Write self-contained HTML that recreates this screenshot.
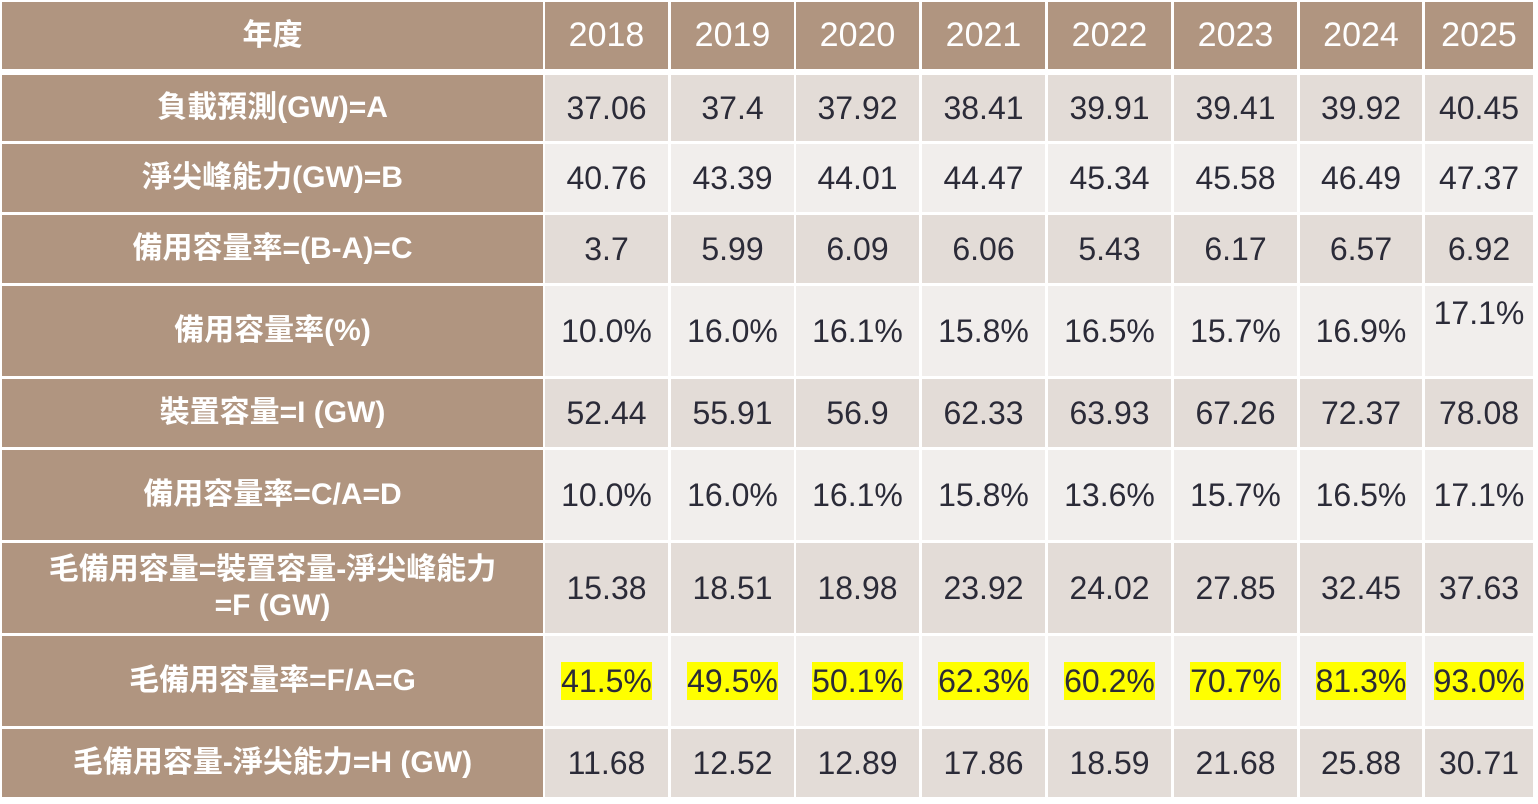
<!DOCTYPE html><html><head><meta charset="utf-8"><style>
body{margin:0;width:1538px;height:804px;background:#fff;position:relative;overflow:hidden;font-family:"Liberation Sans","Noto Sans CJK TC",sans-serif}
.c{position:absolute;display:flex;align-items:center;justify-content:center;text-align:center;font-size:32px;color:#2b2b38;box-sizing:border-box;line-height:1.2}
.h{background:#b09580;color:#fff}
.f{font-weight:bold;font-size:30px}
.hd{font-size:34px}
.o{background:#e3dcd7}.e{background:#f1eeec}
.y{background:#ffff00}
</style></head><body>
<div id="t"></div>
<script>
const cols=[[2,543],[545,668],[671,794],[796,919],[922,1045],[1048,1171],[1174,1297],[1300,1422],[1425,1533]];
const rows=[[2,69],[75,141],[144,212],[215,283],[286,376],[379,447],[450,540],[543,633],[636,726],[729,797]];
const d=[
["年度","2018","2019","2020","2021","2022","2023","2024","2025"],
["負載預測(GW)=A","37.06","37.4","37.92","38.41","39.91","39.41","39.92","40.45"],
["淨尖峰能力(GW)=B","40.76","43.39","44.01","44.47","45.34","45.58","46.49","47.37"],
["備用容量率=(B-A)=C","3.7","5.99","6.09","6.06","5.43","6.17","6.57","6.92"],
["備用容量率(%)","10.0%","16.0%","16.1%","15.8%","16.5%","15.7%","16.9%","17.1%"],
["裝置容量=I (GW)","52.44","55.91","56.9","62.33","63.93","67.26","72.37","78.08"],
["備用容量率=C/A=D","10.0%","16.0%","16.1%","15.8%","13.6%","15.7%","16.5%","17.1%"],
["毛備用容量=裝置容量-淨尖峰能力<br>=F (GW)","15.38","18.51","18.98","23.92","24.02","27.85","32.45","37.63"],
["毛備用容量率=F/A=G","41.5%","49.5%","50.1%","62.3%","60.2%","70.7%","81.3%","93.0%"],
["毛備用容量-淨尖能力=H (GW)","11.68","12.52","12.89","17.86","18.59","21.68","25.88","30.71"]];
let h="";
rows.forEach((r,i)=>cols.forEach((c,j)=>{
 let cls=(i==0||j==0)?"h":(i%2?"o":"e");
 if(j==0)cls+=" f"; else if(i==0)cls+=" hd";
 let txt=d[i][j];
 if(i==8&&j>0)txt='<span class="y">'+txt+'</span>';
 let st=`left:${c[0]}px;top:${r[0]}px;width:${c[1]-c[0]}px;height:${r[1]-r[0]}px;`;
 if(i==4&&j==8)st+="align-items:flex-start;padding-top:8px;";
 h+=`<div class="c ${cls}" style="${st}">${txt}</div>`;
}));
document.getElementById("t").innerHTML=h;
</script>
</body></html>
